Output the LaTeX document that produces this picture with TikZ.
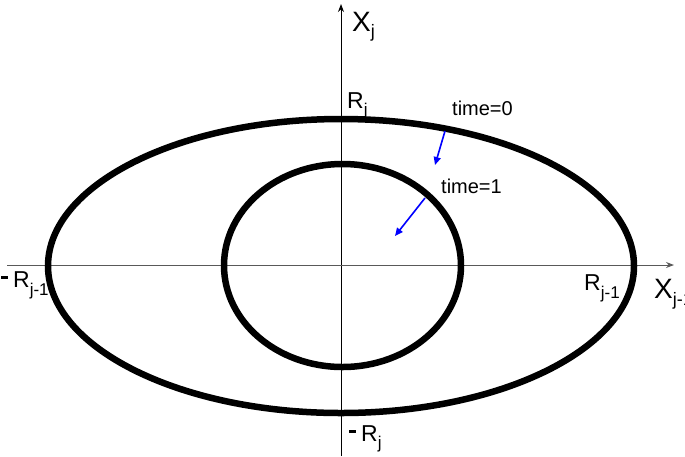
\documentclass[tikz,border=0pt]{standalone}
\usepackage{fontspec}
\setmainfont{Liberation Sans}
\usetikzlibrary{arrows.meta}
\newcommand\sbx[3][17]{\raisebox{-#3}{\fontsize{#1}{#1}\selectfont #2}}
\newcommand\mdash{\rule[8.5pt]{7pt}{3pt}\hspace{5pt}}
\begin{document}
\begin{tikzpicture}[x=1pt,y=-1pt,
  lbl/.style={inner sep=0pt,anchor=base west},
  ring/.style={line width=6.5pt,black},
  axis/.style={line width=1pt},
  flow/.style={blue,line width=1.6pt,-{Triangle[length=8pt,width=7pt]}}]
\useasboundingbox (0,0) rectangle (685,456);
% axes
\coordinate (vb) at (341,456);
\coordinate (vt) at (341,4);
\coordinate (hl) at (7,265);
\coordinate (hr) at (674,265);
\draw[axis,-{Stealth[length=8pt,width=6pt]}] (vb) -- (vt);
\draw[axis,color=black!65,-{Stealth[length=8pt,width=6pt]}] (hl) -- (hr);
% ellipses
\draw[ring] (341,266) ellipse [x radius=293, y radius=147];
\draw[ring] (342.5,265.5) ellipse [x radius=118.5, y radius=101.5];
% blue arrows
\coordinate (a0s) at (445,131);
\coordinate (a0e) at (435,165);
\coordinate (a1s) at (425,198);
\coordinate (a1e) at (395,236);
\draw[flow] (a0s) -- (a0e);
\draw[flow] (a1s) -- (a1e);
% labels
\node[lbl,font=\fontsize{28}{28}\selectfont] (xj) at (352,31) {X\sbx[18]{j}{6pt}};
\node[lbl,font=\fontsize{23}{23}\selectfont] (rj) at (347,108) {R\sbx{j}{7pt}};
\node[lbl,font=\fontsize{20}{20}\selectfont] (t0) at (452,115) {time=0};
\node[lbl,font=\fontsize{20}{20}\selectfont] (t1) at (441,193) {time=1};
\node[lbl,font=\fontsize{23}{23}\selectfont] (mrj1) at (1,287) {\mdash R\sbx{j-1}{8pt}};
\node[lbl,font=\fontsize{23}{23}\selectfont] (rj1) at (584,290) {R\sbx{j-1}{8pt}};
\node[lbl,font=\fontsize{28}{28}\selectfont] (xj1) at (654,298) {X\sbx[18]{j-1}{7pt}};
\node[lbl,font=\fontsize{23}{23}\selectfont] (mrj) at (349,441) {\mdash R\sbx{j}{7pt}};
\end{tikzpicture}
\end{document}
